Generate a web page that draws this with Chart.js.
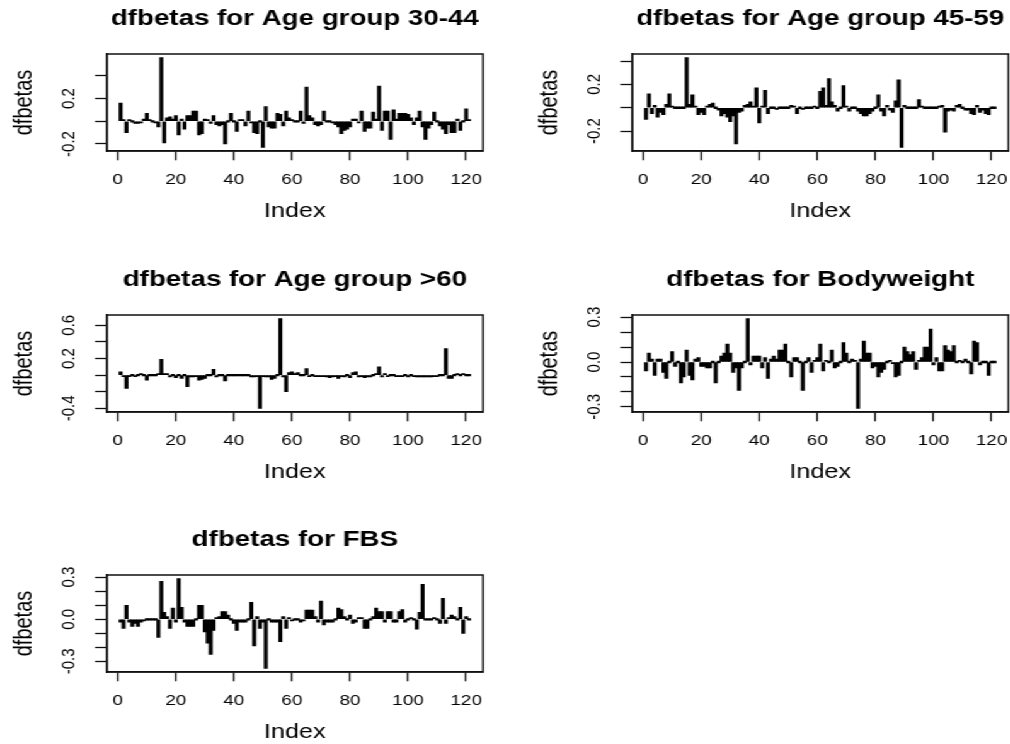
<!DOCTYPE html>
<html>
<head>
<meta charset="utf-8">
<script src="https://cdn.jsdelivr.net/npm/chart.js"></script>
<style>
html,body{margin:0;padding:0;background:#fff;overflow:hidden;width:1010px;height:744px;}
#stage{position:absolute;left:0;top:0;width:802px;height:744px;transform-origin:0 0;}
canvas{position:absolute;}
</style>
</head>
<body>
<div id="stage"></div>
<script>
// ---------------- data ----------------
const indexValues = [];
for (let i = 1; i <= 121; i++) indexValues.push(i);

const xTicks = [0, 20, 40, 60, 80, 100, 120];

const titles = [
  "dfbetas for Age group 30-44",
  "dfbetas for Age group 45-59",
  "dfbetas for Age group >60",
  "dfbetas for Bodyweight",
  "dfbetas for FBS"
];

const ageGroup3044 = [
  0.16, 0.01, -0.10, 0.01, 0.00, -0.02, -0.02, -0.01, 0.02, 0.07,
  0.01, 0.00, -0.01, -0.05, 0.56, -0.19, 0.03, 0.04, 0.02, 0.05,
  -0.12, 0.02, -0.07, 0.05, 0.05, 0.09, 0.09, -0.12, -0.11, 0.02,
  0.01, -0.02, 0.05, -0.03, -0.04, -0.03, -0.20, 0.00, 0.07, 0.00,
  -0.09, 0.01, 0.01, -0.04, 0.09, -0.01, -0.10, -0.11, 0.00, -0.23,
  0.13, -0.05, -0.06, -0.06, 0.07, 0.06, -0.04, 0.09, 0.03, 0.01,
  0.00, 0.00, 0.09, -0.02, 0.30, 0.05, 0.03, -0.03, -0.04, -0.03,
  0.09, 0.00, 0.00, -0.01, -0.03, -0.05, -0.11, -0.08, -0.07, -0.05,
  0.02, 0.02, -0.01, 0.09, -0.09, -0.06, -0.06, 0.08, 0.02, 0.31,
  -0.08, 0.09, 0.09, -0.16, 0.10, 0.02, 0.07, 0.07, 0.07, 0.06,
  0.03, -0.03, 0.03, 0.09, -0.05, -0.16, -0.06, -0.03, 0.08, 0.00,
  -0.04, -0.07, -0.11, -0.03, -0.10, -0.10, 0.02, -0.08, 0.00, 0.11, 0.01
];

const ageGroup4559 = [
  -0.10, 0.12, -0.05, 0.02, -0.08, -0.04, -0.06, 0.03, 0.12, 0.01,
  0.00, 0.00, 0.00, 0.00, 0.43, 0.03, 0.11, 0.01, -0.06, -0.04,
  -0.06, 0.01, 0.03, 0.04, 0.00, -0.02, -0.07, -0.05, -0.08, -0.12,
  -0.07, -0.31, -0.04, -0.03, 0.02, 0.03, 0.05, 0.01, 0.17, -0.13,
  0.01, 0.15, -0.05, 0.00, 0.00, -0.01, 0.00, 0.00, 0.00, 0.00,
  0.02, 0.01, -0.05, 0.00, -0.01, 0.00, 0.00, 0.00, 0.01, 0.00,
  0.14, 0.17, 0.02, 0.25, 0.05, 0.02, -0.03, 0.00, 0.19, 0.01,
  -0.03, 0.00, 0.00, -0.03, -0.05, -0.07, -0.07, -0.05, -0.03, 0.00,
  0.11, -0.03, -0.07, 0.02, -0.02, -0.04, 0.06, 0.24, -0.34, 0.02,
  0.00, 0.00, 0.00, 0.00, 0.07, 0.01, 0.00, 0.00, 0.00, 0.00,
  0.00, 0.01, 0.02, -0.21, -0.03, -0.02, -0.03, 0.02, 0.03, 0.00,
  -0.02, -0.02, -0.05, -0.06, 0.02, -0.04, -0.02, -0.05, -0.06, 0.00, 0.00
];

const ageGroup60 = [
  0.04, -0.01, -0.16, -0.01, 0.00, -0.01, 0.00, 0.01, 0.00, -0.06,
  0.00, 0.00, 0.00, 0.01, 0.19, 0.01, 0.02, -0.02, 0.00, -0.03,
  0.00, -0.04, 0.00, -0.14, -0.02, -0.02, -0.01, -0.06, -0.05, -0.04,
  0.00, 0.00, 0.07, -0.02, 0.00, 0.00, -0.07, 0.00, 0.00, 0.00,
  0.00, 0.00, 0.00, 0.00, 0.00, -0.02, -0.02, -0.01, -0.40, -0.01,
  -0.02, -0.02, -0.05, -0.04, 0.00, 0.68, -0.02, -0.20, 0.03, 0.04,
  0.02, 0.03, 0.00, 0.00, 0.08, -0.01, 0.00, -0.01, -0.01, -0.01,
  -0.01, -0.02, -0.03, -0.02, -0.01, -0.04, -0.01, -0.02, 0.00, -0.03,
  0.03, 0.04, -0.02, -0.01, -0.03, -0.02, -0.02, 0.00, 0.02, 0.10,
  -0.02, 0.01, -0.01, 0.00, 0.00, -0.01, -0.01, -0.01, 0.00, -0.02,
  0.00, -0.01, -0.02, -0.02, -0.02, -0.02, -0.02, -0.02, -0.01, -0.01,
  0.00, 0.00, 0.32, -0.04, -0.04, 0.00, 0.01, 0.00, 0.01, 0.00, 0.00
];

const bodyweight = [
  -0.06, 0.06, 0.02, -0.09, 0.02, 0.02, -0.07, -0.11, 0.00, 0.07,
  -0.03, 0.00, -0.14, -0.10, 0.08, -0.09, -0.12, 0.02, 0.03, -0.03,
  -0.03, -0.04, -0.04, 0.00, -0.14, 0.00, 0.04, 0.06, 0.12, 0.06,
  -0.07, -0.04, -0.19, -0.04, 0.00, 0.29, -0.02, 0.04, 0.04, 0.04,
  -0.04, 0.03, -0.11, 0.02, 0.04, 0.02, 0.08, 0.08, 0.12, 0.00,
  -0.10, 0.03, 0.03, 0.00, -0.19, 0.00, 0.03, -0.07, 0.01, 0.03,
  0.12, -0.06, 0.01, 0.00, 0.08, -0.04, -0.03, 0.00, 0.13, 0.06,
  0.00, 0.02, 0.01, -0.31, 0.02, 0.14, 0.06, 0.06, -0.04, -0.03,
  -0.10, -0.07, -0.05, 0.00, 0.01, -0.01, -0.10, -0.09, 0.00, 0.10,
  0.07, 0.05, 0.07, -0.05, 0.01, 0.03, 0.10, 0.10, 0.22, -0.02,
  0.03, -0.06, -0.06, 0.11, 0.08, 0.07, 0.11, 0.00, 0.01, 0.00,
  0.02, 0.00, -0.08, 0.14, 0.13, -0.02, 0.00, 0.00, -0.09, 0.00, 0.00
];

const fbs = [
  -0.02, -0.065, 0.10, -0.02, -0.05, -0.03, -0.05, -0.02, -0.01, 0.00,
  0.00, 0.00, 0.00, -0.13, 0.27, 0.05, 0.02, -0.065, 0.08, -0.02,
  0.29, 0.085, -0.02, -0.05, -0.05, -0.05, 0.00, 0.10, 0.10, -0.09,
  -0.17, -0.25, -0.08, 0.01, 0.02, 0.055, 0.055, 0.03, 0.00, -0.03,
  -0.08, -0.02, -0.02, -0.02, 0.00, 0.12, -0.19, 0.02, -0.065, -0.02,
  -0.35, 0.00, -0.02, -0.02, -0.02, -0.16, 0.02, -0.065, 0.01, -0.01,
  0.00, 0.00, -0.02, -0.01, 0.065, 0.065, 0.065, 0.02, -0.02, 0.13,
  -0.04, -0.02, -0.02, -0.02, 0.00, 0.08, 0.07, 0.02, 0.00, 0.03,
  -0.03, -0.02, 0.01, 0.01, -0.065, -0.065, 0.00, 0.02, 0.08, 0.055,
  0.055, -0.02, 0.055, 0.055, -0.02, -0.02, 0.055, 0.07, -0.02, 0.00,
  0.01, 0.00, -0.07, 0.05, 0.25, 0.00, 0.00, 0.00, 0.01, 0.00,
  -0.03, 0.15, -0.03, 0.01, 0.03, 0.02, 0.00, 0.085, -0.10, 0.02, 0.00
];

const yTicksA = [-0.2, 0.0, 0.2, 0.4];
const yLabelsA = ["-0.2", "", "0.2", ""];
const yTicksB = [-0.2, 0.0, 0.2, 0.4];
const yLabelsB = ["-0.2", "", "0.2", ""];
const yTicksC = [-0.4, -0.2, 0.0, 0.2, 0.4, 0.6];
const yLabelsC = ["-0.4", "", "", "0.2", "", "0.6"];
const yTicksD = [-0.3, -0.2, -0.1, 0.0, 0.1, 0.2, 0.3];
const yLabelsD = ["-0.3", "", "", "0.0", "", "", "0.3"];
const yTicksE = [-0.3, -0.2, -0.1, 0.0, 0.1, 0.2, 0.3];
const yLabelsE = ["-0.3", "", "", "0.0", "", "", "0.3"];

// ---------------- layout ----------------
const S = 1.26;                 // horizontal stretch of the original picture
const FONT = "'Liberation Sans', Arial, Helvetica, sans-serif";
const Y_AXIS_W = 106.7 / S;
const BOX_W = 376.3 / S;
const BOX_H = 97;
const CANVAS_H = 260;
const colLeft = [0, (632 - 106.7) / S];
const rowTop = [0, 261, 521];

const stage = document.getElementById('stage');
stage.style.transform = 'scaleX(' + S + ')';

const panels = [
  {title: titles[0], values: ageGroup3044, yTicks: yTicksA, yLabels: yLabelsA, col: 0, row: 0},
  {title: titles[1], values: ageGroup4559, yTicks: yTicksB, yLabels: yLabelsB, col: 1, row: 0},
  {title: titles[2], values: ageGroup60, yTicks: yTicksC, yLabels: yLabelsC, col: 0, row: 1},
  {title: titles[3], values: bodyweight, yTicks: yTicksD, yLabels: yLabelsD, col: 1, row: 1},
  {title: titles[4], values: fbs, yTicks: yTicksE, yLabels: yLabelsE, col: 0, row: 2}
];

function rRange(arr) {
  const lo = Math.min(...arr), hi = Math.max(...arr), d = (hi - lo) * 0.04;
  return [lo - d, hi + d];
}

const boxPlugin = {
  id: 'rbox',
  afterDraw(chart) {
    const {ctx, chartArea: a} = chart;
    ctx.save();
    ctx.strokeStyle = '#111';
    ctx.lineWidth = 1.5;
    ctx.strokeRect(a.left, a.top, a.right - a.left, a.bottom - a.top);
    ctx.restore();
  }
};

panels.forEach(p => {
  const w = Math.round(Y_AXIS_W * 2 + BOX_W);
  const c = document.createElement('canvas');
  c.width = w; c.height = CANVAS_H;
  c.style.left = colLeft[p.col] + 'px';
  c.style.top = rowTop[p.row] + 'px';
  c.style.width = w + 'px';
  c.style.height = CANVAS_H + 'px';
  stage.appendChild(c);

  const [xMin, xMax] = rRange(indexValues);
  const [yMin, yMax] = rRange(p.values);

  new Chart(c, {
    type: 'bar',
    data: {
      datasets: [{
        data: p.values.map((v, i) => ({x: indexValues[i], y: v})),
        backgroundColor: '#000',
        borderWidth: 0,
        barThickness: 2.5,
        minBarLength: 1.6,
        xAxisID: 'x',
        yAxisID: 'y'
      }]
    },
    options: {
      responsive: false,
      animation: false,
      devicePixelRatio: 1,
      layout: {padding: {left: 0, top: 0, right: w - 2 * Y_AXIS_W - BOX_W, bottom: CANVAS_H - 54 - BOX_H - 80}},
      plugins: {
        legend: {display: false},
        tooltip: {enabled: false},
        title: {
          display: true, text: p.title, color: '#000',
          font: {family: FONT, size: 22, weight: 'bold'},
          padding: {top: 5.9, bottom: 21.7}
        }
      },
      scales: {
        x: {
          type: 'linear', min: xMin, max: xMax, offset: false, bounds: 'data',
          afterBuildTicks: s => { s.ticks = xTicks.map(v => ({value: v})); },
          afterFit: s => { s.height = 80; },
          ticks: {
            color: '#000', font: {family: FONT, size: 15}, padding: 10.5,
            maxRotation: 0, minRotation: 0, autoSkip: false,
            callback: v => String(v)
          },
          grid: {display: true, offset: false, drawOnChartArea: false, drawTicks: true, tickLength: 9.3, tickColor: '#111', tickWidth: 1.3},
          border: {display: true, color: '#111', width: 1.5},
          title: {display: true, text: 'Index', color: '#000', font: {family: FONT, size: 20}, padding: {top: 0, bottom: 8}}
        },
        y: {
          type: 'linear', position: 'left', min: yMin, max: yMax, bounds: 'data',
          afterBuildTicks: s => { s.ticks = p.yTicks.map(v => ({value: v})); },
          afterFit: s => { s.width = Y_AXIS_W; },
          ticks: {
            color: '#000', font: {family: FONT, size: 15}, padding: 7.2,
            minRotation: 90, maxRotation: 90, crossAlign: 'center', autoSkip: false,
            callback: v => {
              const k = p.yTicks.findIndex(t => Math.abs(t - v) < 1e-9);
              return k >= 0 ? p.yLabels[k] : '';
            }
          },
          grid: {display: true, drawOnChartArea: false, drawTicks: true, tickLength: 9.3, tickColor: '#111', tickWidth: 1.3},
          border: {display: true, color: '#111', width: 1.5},
          title: {display: true, text: 'dfbetas', color: '#000', font: {family: FONT, size: 20}, padding: {top: 7, bottom: 0}}
        },
        // empty right margin (keeps the title centred over the plot box, like R's outer margin)
        yMargin: {
          type: 'linear', axis: 'y', position: 'right', min: yMin, max: yMax, display: true,
          afterFit: s => { s.width = Y_AXIS_W; },
          ticks: {display: false},
          grid: {display: false, drawTicks: false},
          border: {display: false},
          title: {display: false}
        }
      }
    },
    plugins: [boxPlugin]
  });
});
</script>
</body>
</html>
